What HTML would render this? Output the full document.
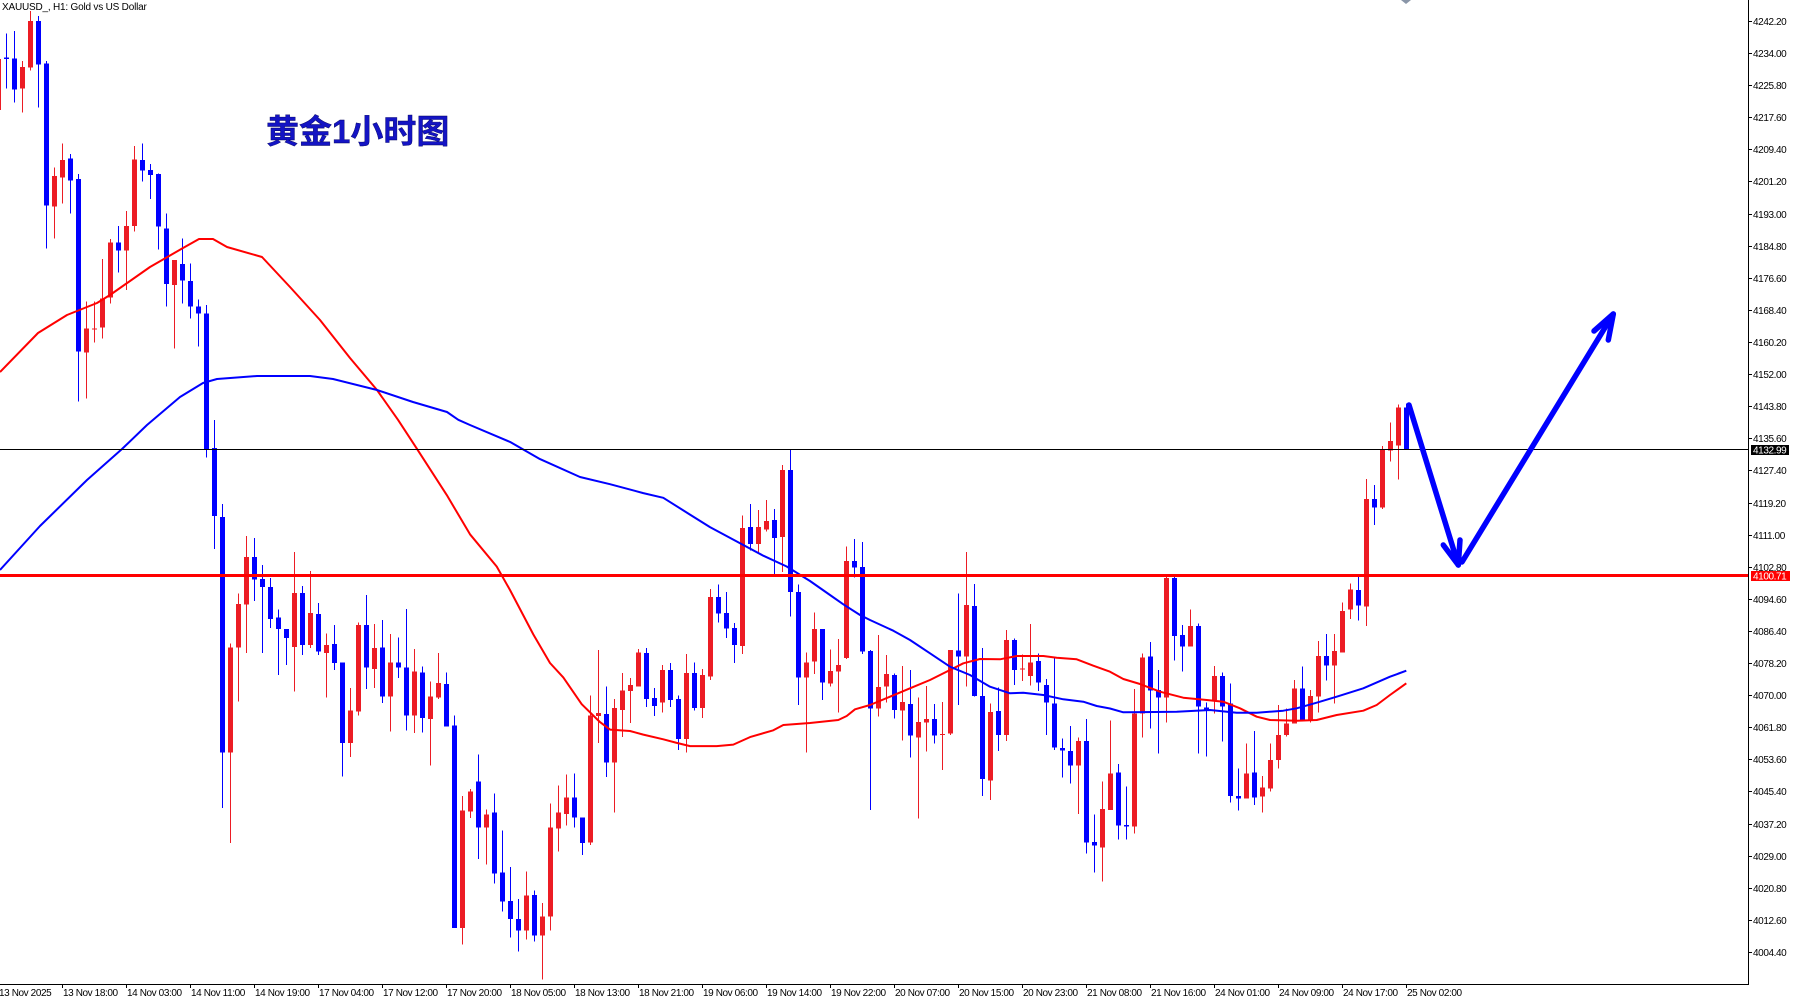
<!DOCTYPE html>
<html><head><meta charset="utf-8"><style>
html,body{margin:0;padding:0;background:#fff;}
svg{display:block;}
.b{fill:#0000ff}.r{fill:#ec1c24}
.ax{font-family:"Liberation Sans",sans-serif;font-size:10px;letter-spacing:-0.4px;fill:#000}
</style></head><body>
<svg width="1796" height="999" viewBox="0 0 1796 999" xmlns="http://www.w3.org/2000/svg">
<rect width="1796" height="999" fill="#fff"/>
<g shape-rendering="crispEdges">
<g transform="matrix(1,0,0,0.333333,0,0)">
<path class="r" d="M-4 177h5v153h-5z"/>
<path class="b" d="M6 100h1v165h-1zM4 173h5v4h-5z"/>
<path class="b" d="M14 93h1v215h-1zM12 175h5v93h-5z"/>
<path class="r" d="M22 183h1v155h-1zM20 201h5v65h-5z"/>
<path class="r" d="M30 33h1v179h-1zM28 63h5v140h-5z"/>
<path class="b" d="M38 48h1v275h-1zM36 63h5v130h-5z"/>
<path class="b" d="M46 183h1v562h-1zM44 190h5v427h-5z"/>
<path class="r" d="M54 503h1v212h-1zM52 528h5v92h-5z"/>
<path class="r" d="M62 430h1v180h-1zM60 480h5v53h-5z"/>
<path class="b" d="M70 462h1v178h-1zM68 475h5v67h-5z"/>
<path class="b" d="M78 522h1v683h-1zM76 537h5v518h-5z"/>
<path class="r" d="M86 905h1v290h-1zM84 985h5v72h-5z"/>
<path class="r" d="M94 905h1v123h-1zM92 985h5v4h-5z"/>
<path class="r" d="M102 777h1v238h-1zM100 895h5v88h-5z"/>
<path class="r" d="M110 717h1v193h-1zM108 727h5v166h-5z"/>
<path class="b" d="M118 678h1v140h-1zM116 727h5v25h-5z"/>
<path class="r" d="M126 633h1v237h-1zM124 678h5v74h-5z"/>
<path class="r" d="M134 438h1v257h-1zM132 478h5v200h-5z"/>
<path class="b" d="M142 430h1v115h-1zM140 480h5v32h-5z"/>
<path class="b" d="M150 492h1v105h-1zM148 510h5v15h-5z"/>
<path class="b" d="M158 520h1v228h-1zM156 522h5v158h-5z"/>
<path class="b" d="M166 640h1v280h-1zM164 685h5v167h-5z"/>
<path class="r" d="M174 780h1v265h-1zM172 780h5v75h-5z"/>
<path class="b" d="M182 715h1v195h-1zM180 792h5v50h-5z"/>
<path class="b" d="M190 790h1v165h-1zM188 843h5v77h-5z"/>
<path class="b" d="M198 898h1v142h-1zM196 920h5v20h-5z"/>
<path class="b" d="M206 915h1v457h-1zM204 940h5v408h-5z"/>
<path class="b" d="M214 1260h1v387h-1zM212 1344h5v204h-5z"/>
</g>
<g transform="matrix(1,0,0,0.3578,0,419.76)">
<path class="b" d="M222 235h1v850h-1zM220 272h5v658h-5z"/>
<path class="r" d="M230 625h1v558h-1zM228 636h5v294h-5z"/>
<path class="r" d="M238 485h1v302h-1zM236 515h5v122h-5z"/>
<path class="r" d="M246 325h1v327h-1zM244 384h5v133h-5z"/>
<path class="b" d="M254 330h1v177h-1zM252 384h5v63h-5z"/>
<path class="b" d="M262 406h1v246h-1zM260 445h5v22h-5z"/>
<path class="b" d="M270 442h1v140h-1zM268 468h5v89h-5z"/>
<path class="b" d="M278 530h1v184h-1zM276 552h5v33h-5z"/>
<path class="b" d="M286 585h1v101h-1zM284 585h5v25h-5z"/>
<path class="r" d="M294 370h1v390h-1zM292 484h5v151h-5z"/>
<path class="b" d="M302 465h1v193h-1zM300 484h5v146h-5z"/>
<path class="r" d="M310 423h1v215h-1zM308 540h5v90h-5z"/>
<path class="b" d="M318 512h1v146h-1zM316 543h5v104h-5z"/>
<path class="r" d="M326 597h1v179h-1zM324 630h5v22h-5z"/>
<path class="b" d="M334 574h1v126h-1zM332 627h5v53h-5z"/>
<path class="b" d="M342 678h1v319h-1zM340 678h5v225h-5z"/>
<path class="r" d="M350 750h1v193h-1zM348 812h5v91h-5z"/>
<path class="r" d="M358 567h1v259h-1zM356 574h5v241h-5z"/>
<path class="b" d="M366 490h1v263h-1zM364 574h5v119h-5z"/>
<path class="r" d="M374 571h1v179h-1zM372 638h5v59h-5z"/>
<path class="b" d="M382 560h1v232h-1zM380 636h5v137h-5z"/>
<path class="r" d="M390 599h1v272h-1zM388 678h5v95h-5z"/>
<path class="b" d="M398 608h1v114h-1zM396 678h5v15h-5z"/>
<path class="b" d="M406 529h1v339h-1zM404 692h5v134h-5z"/>
<path class="r" d="M414 641h1v235h-1zM412 703h5v123h-5z"/>
<path class="b" d="M422 689h1v185h-1zM420 706h5v127h-5z"/>
<path class="r" d="M430 731h1v235h-1zM428 773h5v64h-5z"/>
<path class="r" d="M438 652h1v129h-1zM436 736h5v40h-5z"/>
<path class="b" d="M446 706h1v151h-1zM444 739h5v118h-5z"/>
<path class="b" d="M454 826h1v595h-1zM452 854h5v566h-5z"/>
<path class="r" d="M462 1052h1v414h-1zM460 1092h5v328h-5z"/>
<path class="r" d="M470 1032h1v81h-1zM468 1039h5v56h-5z"/>
<path class="b" d="M478 935h1v293h-1zM476 1011h5v129h-5z"/>
<path class="r" d="M486 1089h1v154h-1zM484 1103h5v37h-5z"/>
<path class="b" d="M494 1044h1v252h-1zM492 1098h5v170h-5z"/>
<path class="b" d="M502 1148h1v227h-1zM500 1266h5v80h-5z"/>
<path class="b" d="M510 1250h1v197h-1zM508 1345h5v50h-5z"/>
<path class="b" d="M518 1340h1v146h-1zM516 1395h5v32h-5z"/>
<path class="r" d="M526 1263h1v190h-1zM524 1330h5v97h-5z"/>
<path class="b" d="M534 1316h1v142h-1zM532 1328h5v113h-5z"/>
<path class="r" d="M542 1350h1v215h-1zM540 1388h5v53h-5z"/>
<path class="r" d="M550 1072h1v356h-1zM548 1140h5v248h-5z"/>
<path class="r" d="M558 1022h1v184h-1zM556 1098h5v45h-5z"/>
<path class="r" d="M566 991h1v143h-1zM564 1056h5v46h-5z"/>
<path class="b" d="M574 988h1v151h-1zM572 1056h5v55h-5z"/>
<path class="b" d="M582 1112h1v105h-1zM580 1112h5v71h-5z"/>
<path class="r" d="M590 770h1v418h-1zM588 826h5v355h-5z"/>
<path class="r" d="M598 644h1v259h-1zM596 820h5v8h-5z"/>
<path class="b" d="M606 745h1v253h-1zM604 823h5v135h-5z"/>
<path class="r" d="M614 780h1v317h-1zM612 806h5v152h-5z"/>
<path class="r" d="M622 708h1v179h-1zM620 756h5v55h-5z"/>
<path class="r" d="M630 722h1v125h-1zM628 742h5v16h-5z"/>
<path class="r" d="M638 640h1v105h-1zM636 650h5v95h-5z"/>
<path class="b" d="M646 638h1v165h-1zM644 652h5v128h-5z"/>
<path class="b" d="M654 750h1v78h-1zM652 778h5v22h-5z"/>
<path class="r" d="M662 686h1v132h-1zM660 700h5v90h-5z"/>
<path class="b" d="M670 680h1v123h-1zM668 700h5v83h-5z"/>
<path class="b" d="M678 770h1v153h-1zM676 780h5v112h-5z"/>
<path class="r" d="M686 655h1v275h-1zM684 708h5v184h-5z"/>
<path class="b" d="M694 678h1v134h-1zM692 708h5v97h-5z"/>
<path class="r" d="M702 697h1v136h-1zM700 714h5v91h-5z"/>
<path class="r" d="M710 473h1v254h-1zM708 496h5v221h-5z"/>
<path class="b" d="M718 460h1v106h-1zM716 496h5v46h-5z"/>
<path class="b" d="M726 482h1v128h-1zM724 540h5v44h-5z"/>
<path class="b" d="M734 568h1v112h-1zM732 582h5v48h-5z"/>
<path class="r" d="M742 268h1v386h-1zM740 302h5v330h-5z"/>
<path class="b" d="M750 235h1v131h-1zM748 300h5v47h-5z"/>
<path class="r" d="M758 252h1v121h-1zM756 300h5v47h-5z"/>
<path class="r" d="M766 224h1v88h-1zM764 283h5v24h-5z"/>
<path class="b" d="M774 250h1v181h-1zM772 280h5v50h-5z"/>
<path class="r" d="M782 126h1v299h-1zM780 140h5v187h-5z"/>
<path class="b" d="M790 82h1v468h-1zM788 140h5v342h-5z"/>
<path class="b" d="M798 460h1v337h-1zM796 482h5v238h-5z"/>
<path class="r" d="M806 650h1v280h-1zM804 678h5v42h-5z"/>
</g>
<g transform="matrix(1,0,0,0.333333,0,420)">
<path class="r" d="M814 578h1v184h-1zM812 627h5v98h-5z"/>
<path class="b" d="M822 627h1v213h-1zM820 627h5v161h-5z"/>
<path class="r" d="M830 688h1v112h-1zM828 753h5v37h-5z"/>
<path class="r" d="M838 657h1v221h-1zM836 735h5v20h-5z"/>
<path class="r" d="M846 380h1v337h-1zM844 423h5v291h-5z"/>
<path class="b" d="M854 357h1v116h-1zM852 423h5v20h-5z"/>
<path class="b" d="M862 366h1v336h-1zM860 441h5v254h-5z"/>
<path class="b" d="M870 690h1v480h-1zM868 693h5v172h-5z"/>
<path class="r" d="M878 645h1v245h-1zM876 801h5v64h-5z"/>
<path class="r" d="M886 705h1v143h-1zM884 762h5v38h-5z"/>
<path class="b" d="M894 760h1v135h-1zM892 765h5v105h-5z"/>
<path class="r" d="M902 738h1v224h-1zM900 846h5v26h-5z"/>
<path class="b" d="M910 750h1v263h-1zM908 852h5v95h-5z"/>
<path class="r" d="M918 833h1v363h-1zM916 906h5v47h-5z"/>
<path class="r" d="M926 798h1v197h-1zM924 897h5v11h-5z"/>
<path class="b" d="M934 852h1v118h-1zM932 897h5v50h-5z"/>
<path class="r" d="M942 846h1v204h-1zM940 942h5v3h-5z"/>
<path class="r" d="M950 690h1v255h-1zM948 690h5v250h-5z"/>
<path class="b" d="M958 521h1v334h-1zM956 692h5v18h-5z"/>
<path class="r" d="M966 396h1v404h-1zM964 555h5v155h-5z"/>
<path class="b" d="M974 492h1v338h-1zM972 558h5v270h-5z"/>
<path class="b" d="M982 684h1v444h-1zM980 828h5v249h-5z"/>
<path class="r" d="M990 850h1v290h-1zM988 876h5v206h-5z"/>
<path class="b" d="M998 802h1v191h-1zM996 873h5v72h-5z"/>
<path class="r" d="M1006 630h1v333h-1zM1004 660h5v285h-5z"/>
<path class="b" d="M1014 655h1v140h-1zM1012 660h5v90h-5z"/>
<path class="r" d="M1022 703h1v80h-1zM1020 745h5v3h-5z"/>
<path class="r" d="M1030 612h1v185h-1zM1028 727h5v41h-5z"/>
<path class="b" d="M1038 700h1v113h-1zM1036 723h5v65h-5z"/>
<path class="b" d="M1046 777h1v168h-1zM1044 795h5v53h-5z"/>
<path class="b" d="M1054 713h1v277h-1zM1052 850h5v133h-5z"/>
<path class="b" d="M1062 955h1v118h-1zM1060 984h5v8h-5z"/>
<path class="b" d="M1070 918h1v173h-1zM1068 993h5v44h-5z"/>
<path class="r" d="M1078 952h1v230h-1zM1076 963h5v74h-5z"/>
<path class="b" d="M1086 897h1v404h-1zM1084 963h5v305h-5z"/>
<path class="b" d="M1094 1183h1v175h-1zM1092 1266h5v11h-5z"/>
<path class="r" d="M1102 1085h1v300h-1zM1100 1167h5v116h-5z"/>
</g>
<g transform="matrix(1,0,0,0.333333,0,380)">
<path class="r" d="M1110 1022h1v268h-1zM1108 1180h5v110h-5z"/>
<path class="b" d="M1118 1152h1v226h-1zM1116 1177h5v160h-5z"/>
<path class="b" d="M1126 1220h1v158h-1zM1124 1335h5v5h-5z"/>
<path class="r" d="M1134 927h1v433h-1zM1132 1000h5v340h-5z"/>
<path class="r" d="M1142 820h1v253h-1zM1140 833h5v167h-5z"/>
<path class="b" d="M1150 786h1v260h-1zM1148 830h5v102h-5z"/>
<path class="b" d="M1158 870h1v250h-1zM1156 930h5v23h-5z"/>
<path class="r" d="M1166 590h1v437h-1zM1164 594h5v359h-5z"/>
<path class="b" d="M1174 590h1v252h-1zM1172 594h5v174h-5z"/>
<path class="b" d="M1182 735h1v140h-1zM1180 765h5v35h-5z"/>
<path class="r" d="M1190 688h1v112h-1zM1188 738h5v62h-5z"/>
<path class="b" d="M1198 730h1v390h-1zM1196 738h5v242h-5z"/>
<path class="b" d="M1206 968h1v162h-1zM1204 982h5v10h-5z"/>
<path class="r" d="M1214 858h1v142h-1zM1212 888h5v72h-5z"/>
<path class="b" d="M1222 877h1v208h-1zM1220 888h5v92h-5z"/>
<path class="b" d="M1230 910h1v358h-1zM1228 970h5v278h-5z"/>
<path class="b" d="M1238 1165h1v127h-1zM1236 1248h5v7h-5z"/>
<path class="r" d="M1246 1090h1v165h-1zM1244 1180h5v75h-5z"/>
<path class="b" d="M1254 1053h1v222h-1zM1252 1177h5v76h-5z"/>
<path class="r" d="M1262 1188h1v110h-1zM1260 1222h5v28h-5z"/>
<path class="r" d="M1270 1090h1v145h-1zM1268 1140h5v85h-5z"/>
<path class="r" d="M1278 975h1v190h-1zM1276 1065h5v75h-5z"/>
<path class="r" d="M1286 985h1v85h-1zM1284 1030h5v35h-5z"/>
<path class="r" d="M1294 900h1v130h-1zM1292 925h5v105h-5z"/>
<path class="b" d="M1302 860h1v165h-1zM1300 925h5v95h-5z"/>
<path class="r" d="M1310 930h1v97h-1zM1308 948h5v72h-5z"/>
<path class="r" d="M1318 783h1v214h-1zM1316 828h5v122h-5z"/>
<path class="b" d="M1326 762h1v140h-1zM1324 828h5v29h-5z"/>
<path class="r" d="M1334 762h1v208h-1zM1332 813h5v44h-5z"/>
<path class="r" d="M1342 668h1v150h-1zM1340 693h5v125h-5z"/>
<path class="r" d="M1350 610h1v107h-1zM1348 628h5v60h-5z"/>
<path class="b" d="M1358 590h1v132h-1zM1356 630h5v47h-5z"/>
<path class="r" d="M1366 297h1v441h-1zM1364 357h5v323h-5z"/>
<path class="b" d="M1374 315h1v120h-1zM1372 357h5v25h-5z"/>
<path class="r" d="M1382 198h1v189h-1zM1380 208h5v175h-5z"/>
<path class="r" d="M1390 127h1v118h-1zM1388 183h5v29h-5z"/>
<path class="r" d="M1398 73h1v225h-1zM1396 82h5v115h-5z"/>
<path class="b" d="M1406 70h1v138h-1zM1404 82h5v126h-5z"/>
</g>
</g>
<!-- moving averages -->
<polyline fill="none" stroke="#ff0000" stroke-width="2" stroke-linejoin="round" points="0,372 38,333 67,315 97,303 110,295 150,267 183,248 199,239 213,239 227,247 262,257 290,287 320,320 350,358 377,390 398,419.8 416.7,448.4 446.7,494.9 470,534.3 496.7,566.5 510,590 533.3,634.4 550,663 563.3,677.4 581.7,704.2 600,722.1 610,729.6 630,731 643.3,734.6 663.3,739.3 676.7,742.9 690,746.1 716.7,746.1 733.3,744.6 750,737.1 773.3,730.3 783.3,725 810,723 838.3,720 846.7,716 855,709.3 870,705 890,696.7 910,688.3 930,680 950,670 963.3,663.3 980,659 1000,659.3 1016.7,656 1043.3,656 1056.7,657.7 1076.7,659.3 1093.3,665.7 1110,671.7 1123.3,679 1140,684 1160,691.7 1183.3,697.7 1206.7,700 1223.3,701.7 1240,708.3 1256.7,716.7 1270,720 1296.7,720.7 1316.7,720 1336.7,715 1363.3,710.7 1376.7,705 1390,695 1406.3,683.3"/>
<polyline fill="none" stroke="#0000ff" stroke-width="2" stroke-linejoin="round" points="0,570 40,526 87,480 122,449 147,425 180,397 203,383 217,379 257,376 310,376 333,379 377,390 413,402 447,412 458.3,419.8 470,425 510,441.9 540,459.1 580,477 610,484.2 643.3,493.1 663.3,497.8 690,514.6 710,527.1 733.3,539.6 763.3,555.7 786.7,566.5 810,581 830,595 843.3,604.3 860,615 870,620 893.3,630.7 910,640 930,653.3 950,666.7 970,675 990,686.7 1010,693.3 1023.3,692.7 1043.3,695 1063.3,699.3 1083.3,701.7 1096.7,706 1110,708.5 1123.3,712.3 1176.7,711.7 1210,710 1236.7,712.7 1256.7,712.7 1283.3,710.7 1296.7,708.3 1316.7,702.7 1336.7,696.7 1363.3,688.3 1390,676.7 1406.3,670.7"/>
<!-- horizontal lines -->
<g shape-rendering="crispEdges">
<rect x="0" y="449" width="1748" height="1" fill="#000"/>
<rect x="0" y="574" width="1748" height="3" fill="#ff0000"/>
</g>
<!-- arrow -->
<g fill="none" stroke="#0000ff" stroke-width="5.5" stroke-linecap="round" stroke-linejoin="round">
<polyline points="1409,405 1458.3,565"/>
<polyline points="1443.3,545 1458.3,565 1460,540"/>
<polyline points="1462,562 1613.3,314"/>
<polyline points="1594,331 1613.3,314 1608.3,340"/>
</g>
<polygon points="1401,0 1411,0 1406,4" fill="#8a96a8"/>
<!-- axes -->
<g shape-rendering="crispEdges" stroke="#000" stroke-width="1" fill="none">
<path fill="none" d="M1748.5 0V984.5H0"/>
<path fill="none" d="M1748 21.5h4M1748 53.5h4M1748 85.5h4M1748 117.5h4M1748 149.5h4M1748 181.5h4M1748 214.5h4M1748 246.5h4M1748 278.5h4M1748 310.5h4M1748 342.5h4M1748 374.5h4M1748 406.5h4M1748 438.5h4M1748 470.5h4M1748 503.5h4M1748 535.5h4M1748 567.5h4M1748 599.5h4M1748 631.5h4M1748 663.5h4M1748 695.5h4M1748 727.5h4M1748 759.5h4M1748 791.5h4M1748 824.5h4M1748 856.5h4M1748 888.5h4M1748 920.5h4M1748 952.5h4"/>
<path fill="none" d="M62.5 984v4M126.5 984v4M190.5 984v4M254.5 984v4M318.5 984v4M382.5 984v4M446.5 984v4M510.5 984v4M574.5 984v4M638.5 984v4M702.5 984v4M766.5 984v4M830.5 984v4M894.5 984v4M958.5 984v4M1022.5 984v4M1086.5 984v4M1150.5 984v4M1214.5 984v4M1278.5 984v4M1342.5 984v4M1406.5 984v4"/>
</g>
<g class="ax">
<text x="1753" y="25">4242.20</text>
<text x="1753" y="57">4234.00</text>
<text x="1753" y="89">4225.80</text>
<text x="1753" y="121">4217.60</text>
<text x="1753" y="153">4209.40</text>
<text x="1753" y="185">4201.20</text>
<text x="1753" y="218">4193.00</text>
<text x="1753" y="250">4184.80</text>
<text x="1753" y="282">4176.60</text>
<text x="1753" y="314">4168.40</text>
<text x="1753" y="346">4160.20</text>
<text x="1753" y="378">4152.00</text>
<text x="1753" y="410">4143.80</text>
<text x="1753" y="442">4135.60</text>
<text x="1753" y="474">4127.40</text>
<text x="1753" y="507">4119.20</text>
<text x="1753" y="539">4111.00</text>
<text x="1753" y="571">4102.80</text>
<text x="1753" y="603">4094.60</text>
<text x="1753" y="635">4086.40</text>
<text x="1753" y="667">4078.20</text>
<text x="1753" y="699">4070.00</text>
<text x="1753" y="731">4061.80</text>
<text x="1753" y="763">4053.60</text>
<text x="1753" y="795">4045.40</text>
<text x="1753" y="828">4037.20</text>
<text x="1753" y="860">4029.00</text>
<text x="1753" y="892">4020.80</text>
<text x="1753" y="924">4012.60</text>
<text x="1753" y="956">4004.40</text>
<text x="-1" y="996">13 Nov 2025</text>
<text x="63" y="996">13 Nov 18:00</text>
<text x="127" y="996">14 Nov 03:00</text>
<text x="191" y="996">14 Nov 11:00</text>
<text x="255" y="996">14 Nov 19:00</text>
<text x="319" y="996">17 Nov 04:00</text>
<text x="383" y="996">17 Nov 12:00</text>
<text x="447" y="996">17 Nov 20:00</text>
<text x="511" y="996">18 Nov 05:00</text>
<text x="575" y="996">18 Nov 13:00</text>
<text x="639" y="996">18 Nov 21:00</text>
<text x="703" y="996">19 Nov 06:00</text>
<text x="767" y="996">19 Nov 14:00</text>
<text x="831" y="996">19 Nov 22:00</text>
<text x="895" y="996">20 Nov 07:00</text>
<text x="959" y="996">20 Nov 15:00</text>
<text x="1023" y="996">20 Nov 23:00</text>
<text x="1087" y="996">21 Nov 08:00</text>
<text x="1151" y="996">21 Nov 16:00</text>
<text x="1215" y="996">24 Nov 01:00</text>
<text x="1279" y="996">24 Nov 09:00</text>
<text x="1343" y="996">24 Nov 17:00</text>
<text x="1407" y="996">25 Nov 02:00</text>
</g>
<rect x="1751" y="445" width="38" height="10" fill="#000" shape-rendering="crispEdges"/>
<text x="1753" y="453.5" class="ax" style="fill:#fff">4132.99</text>
<rect x="1751" y="571" width="39" height="10" fill="#ff0000" shape-rendering="crispEdges"/>
<text x="1753" y="579.5" class="ax" style="fill:#fff">4100.71</text>
<text x="2" y="10" style="font-family:'Liberation Sans',sans-serif;font-size:10px;letter-spacing:-0.2px;fill:#000">XAUUSD_, H1:  Gold vs US Dollar</text>
<text x="266" y="143" style="font-family:'Liberation Sans','Noto Sans CJK SC',sans-serif;font-size:33px;font-weight:bold;fill:#1414c4;stroke:#00005a;stroke-width:0.4px">黄金1小时图</text>
</svg>
</body></html>
